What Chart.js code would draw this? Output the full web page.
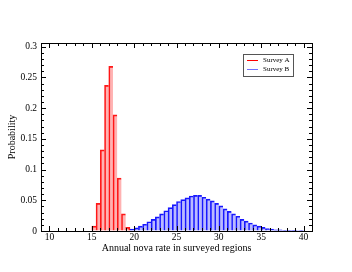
<!DOCTYPE html>
<html>
<head>
<meta charset="utf-8">
<script src="https://cdn.jsdelivr.net/npm/chart.js@4/dist/chart.umd.min.js"></script>
<style>
  html, body { margin: 0; padding: 0; background: #fff; }
  #wrap { width: 352px; height: 272px; }
</style>
</head>
<body>
<div id="wrap"><canvas id="novaChart"></canvas></div>
<script>
const binWidth = 0.5;
const seriesNames = ['Survey A', 'Survey B'];

// left edges of the histogram bins
const binsA = [15, 15.5, 16, 16.5, 17, 17.5, 18, 18.5, 19];
const probA = [0.008, 0.045, 0.132, 0.237, 0.268, 0.189, 0.086, 0.028, 0.006];

const binsB = [19.5, 20, 20.5, 21, 21.5, 22, 22.5, 23, 23.5, 24, 24.5, 25, 25.5, 26, 26.5,
    27, 27.5, 28, 28.5, 29, 29.5, 30, 30.5, 31, 31.5, 32, 32.5, 33, 33.5, 34, 34.5,
    35, 35.5, 36, 36.5, 37, 37.5, 38, 38.5, 39, 39.5];
const probB = [0.003, 0.005, 0.008, 0.011, 0.015, 0.019, 0.023, 0.028, 0.033, 0.038, 0.043, 0.048, 0.051, 0.054, 0.057,
    0.058, 0.058, 0.055, 0.052, 0.049, 0.045, 0.041, 0.036, 0.032, 0.028, 0.024, 0.019, 0.016, 0.013, 0.010, 0.008,
    0.006, 0.004, 0.003, 0.002, 0.002, 0.001, 0.001, 0.001, 0.0005, 0.0003];

const xTicks = [10, 15, 20, 25, 30, 35, 40];
const yTicks = [0, 0.05, 0.1, 0.15, 0.2, 0.25, 0.3];

const serif = "'Liberation Serif', 'Times New Roman', serif";
Chart.defaults.font.family = serif;
Chart.defaults.font.size = 9;
Chart.defaults.color = '#000';

const toPoints = (bins, probs) => bins.map((b, i) => ({ x: b + binWidth / 2, y: probs[i] }));

// step outline: left + top on every bar, right edge only on the last one
const stepBorder = (ctx) => ({
    top: 1,
    left: 1,
    bottom: 0,
    right: ctx.dataIndex === ctx.dataset.data.length - 1 ? 1 : 0
});

// inward ticks on all four sides plus the frame
const frameTicks = {
    id: 'frameTicks',
    afterDraw(chart) {
        const { ctx, chartArea: a, scales: { x, y } } = chart;
        ctx.save();
        ctx.strokeStyle = '#000';
        ctx.lineWidth = 1;
        ctx.beginPath();
        for (let v = Math.ceil(x.min); v <= x.max; v++) {
            const px = Math.round(x.getPixelForValue(v)) + 0.5;
            const len = v % 5 === 0 ? 5 : 3;
            ctx.moveTo(px, a.bottom); ctx.lineTo(px, a.bottom - len);
            ctx.moveTo(px, a.top); ctx.lineTo(px, a.top + len);
        }
        for (let k = 0; k <= 30; k++) {
            const py = Math.round(y.getPixelForValue(k / 100)) + 0.5;
            const len = k % 5 === 0 ? 5 : 3;
            ctx.moveTo(a.left, py); ctx.lineTo(a.left + len, py);
            ctx.moveTo(a.right, py); ctx.lineTo(a.right - len, py);
        }
        ctx.stroke();
        ctx.strokeRect(Math.round(a.left) + 0.5, Math.round(a.top) + 0.5,
            Math.round(a.width), Math.round(a.height));
        ctx.restore();
    }
};

// small boxed legend inside the plot
const boxLegend = {
    id: 'boxLegend',
    afterDraw(chart) {
        const { ctx } = chart;
        const colors = ['#ff0000', '#7070ff'];
        ctx.save();
        ctx.fillStyle = '#fff';
        ctx.fillRect(243, 54, 50, 22);
        ctx.strokeStyle = '#555';
        ctx.lineWidth = 1;
        ctx.strokeRect(243.5, 54.5, 50, 22);
        ctx.font = '7px ' + serif;
        ctx.textBaseline = 'middle';
        seriesNames.forEach((name, i) => {
            const ly = 60.5 + i * 9;
            ctx.strokeStyle = colors[i];
            ctx.beginPath();
            ctx.moveTo(247, ly); ctx.lineTo(258, ly);
            ctx.stroke();
            ctx.fillStyle = '#000';
            ctx.fillText(name, 263, ly);
        });
        ctx.restore();
    }
};

new Chart(document.getElementById('novaChart'), {
    type: 'bar',
    data: {
        datasets: [
            {
                label: seriesNames[0],
                data: toPoints(binsA, probA),
                backgroundColor: 'rgba(255, 0, 0, 0.3)',
                borderColor: 'rgba(255, 0, 0, 0.9)',
                borderWidth: stepBorder,
                borderSkipped: false
            },
            {
                label: seriesNames[1],
                data: toPoints(binsB, probB),
                backgroundColor: 'rgba(0, 0, 255, 0.27)',
                borderColor: 'rgba(0, 0, 255, 0.9)',
                borderWidth: stepBorder,
                borderSkipped: false
            }
        ]
    },
    options: {
        responsive: true,
        maintainAspectRatio: false,
        animation: false,
        events: [],
        grouped: false,
        barPercentage: 1,
        categoryPercentage: 1,
        layout: { padding: { left: 0, right: 40, top: 43, bottom: 0 } },
        plugins: {
            legend: { display: false },
            tooltip: { enabled: false }
        },
        scales: {
            x: {
                type: 'linear',
                min: 9,
                max: 41,
                offset: false,
                border: { display: false },
                grid: { display: false, offset: false, drawTicks: false },
                afterBuildTicks: (scale) => { scale.ticks = xTicks.map(v => ({ value: v })); },
                afterFit: (scale) => { scale.height = 41; },
                ticks: { autoSkip: false, maxRotation: 0, padding: 1, font: { size: 9.5 } },
                title: {
                    display: true,
                    text: 'Annual nova rate in surveyed regions',
                    font: { size: 10 },
                    padding: { top: 0, bottom: 18 }
                }
            },
            y: {
                min: 0,
                max: 0.306,
                z: 1,
                border: { display: false, dash: [1, 2] },
                grid: {
                    color: 'rgba(255, 255, 255, 0.85)',
                    lineWidth: 1,
                    drawTicks: false
                },
                afterBuildTicks: (scale) => {
                    const t = [];
                    for (let k = 0; k <= 30; k++) t.push({ value: k / 100 });
                    scale.ticks = t;
                },
                afterFit: (scale) => { scale.width = 41; },
                ticks: {
                    autoSkip: false,
                    padding: 4,
                    font: { size: 9.5 },
                    callback: (value) => {
                        const m = yTicks.find(t => Math.abs(t - value) < 1e-6);
                        return m === undefined ? '' : String(m);
                    }
                },
                title: {
                    display: true,
                    text: 'Probability',
                    font: { size: 10 },
                    padding: { top: 6, bottom: 0 }
                }
            }
        }
    },
    plugins: [frameTicks, boxLegend]
});
</script>
</body>
</html>
